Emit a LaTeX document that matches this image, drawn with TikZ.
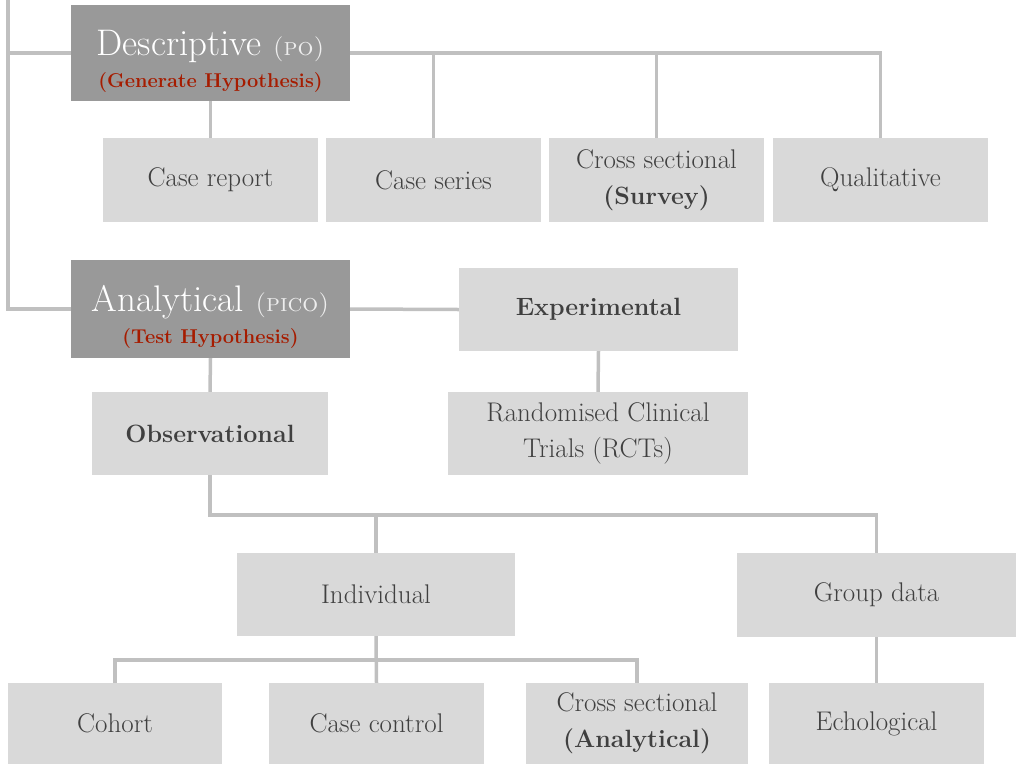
\documentclass[tikz,border=0pt]{standalone}
\usepackage{fontspec}
\usepackage{xcolor}
\definecolor{hdr}{HTML}{999999}
\definecolor{lite}{HTML}{D9D9D9}
\definecolor{txt}{HTML}{404040}
\definecolor{redt}{HTML}{A61C00}
\definecolor{conn}{HTML}{C0C0C0}
\definecolor{pale}{HTML}{EEEEEE}
\newcommand{\bigtxt}{\fontsize{37}{32}\selectfont}
\newcommand{\sctxt}{\fontsize{25}{32}\selectfont}
\newcommand{\redtxt}{\fontsize{20}{32}\selectfont\bfseries\color{redt}}
\newcommand{\bftxt}[1]{{\fontsize{25}{36}\selectfont\bfseries #1}}
\newcommand{\topstrut}{\rule{0pt}{42pt}}
\tikzset{
  box/.style={fill=lite, text=txt, inner sep=0pt, align=center, font=\fontsize{27}{36}\selectfont},
  hbox/.style={fill=hdr, text=white, inner sep=0pt, align=center, font=\fontsize{20}{32}\selectfont},
  conn/.style={draw=conn, line width=3.5pt}
}
\begin{document}
\begin{tikzpicture}[x=1pt,y=-1pt]
\useasboundingbox (0,0) rectangle (1018,764);
% header nodes
\node[hbox, minimum width=279pt, minimum height=96pt] (desc) at (210.5,53)
  {\topstrut{\bigtxt Descriptive {\sctxt\color{pale}\textsc{(po)}}}\\
   {\redtxt (Generate Hypothesis)}};
\node[hbox, minimum width=279pt, minimum height=98pt] (anal) at (210.5,309)
  {\topstrut{\bigtxt Analytical {\sctxt\color{pale}\textsc{(pico)}}}\\
   {\redtxt (Test Hypothesis)}};
% row 1
\node[box, minimum width=215pt, minimum height=84pt] (crep) at (210.5,180) {Case report};
\node[box, minimum width=215pt, minimum height=84pt] (cser) at (433.5,180) {Case series};
\node[box, minimum width=215pt, minimum height=84pt] (csec) at (656.5,180) {Cross sectional\\\bftxt{(Survey)}};
\node[box, minimum width=215pt, minimum height=84pt] (qual) at (880.5,180) {Qualitative};
% analytical branch
\node[box, minimum width=279pt, minimum height=83pt] (expe) at (598.5,309.5) {\bftxt{Experimental}};
\node[box, minimum width=300pt, minimum height=83pt] (rct) at (598,433.5) {Randomised Clinical\\Trials (RCTs)};
\node[box, minimum width=236pt, minimum height=83pt] (obs) at (210,433.5) {\bftxt{Observational}};
\node[box, minimum width=278pt, minimum height=83pt] (ind) at (376,594.5) {Individual};
\node[box, minimum width=279pt, minimum height=84pt] (grp) at (876.5,595) {Group data};
% bottom row
\node[box, minimum width=214pt, minimum height=81pt] (coh) at (115,723.5) {Cohort};
\node[box, minimum width=215pt, minimum height=81pt] (cctl) at (376.5,723.5) {Case control};
\node[box, minimum width=222pt, minimum height=81pt] (csan) at (637,723.5) {Cross sectional\\\bftxt{(Analytical)}};
\node[box, minimum width=215pt, minimum height=81pt] (echo) at (876.5,723.5) {Echological};
% connectors
\coordinate (top) at (8,0);
\coordinate (busB) at (0,515);
\coordinate (busC) at (0,660);
\draw[conn] (top) |- (anal.west);
\draw[conn] (desc.west) -- (desc.west -| top);
\draw[conn] (desc.east) -- (qual.north |- desc.east) -- (qual.north);
\draw[conn] (cser.north |- desc.east) -- (cser.north);
\draw[conn] (csec.north |- desc.east) -- (csec.north);
\draw[conn] (desc.south) -- (crep.north);
\draw[conn] (anal.east) -- (expe.west);
\draw[conn] (expe.south) -- (rct.north);
\draw[conn] (anal.south) -- (obs.north);
\draw[conn] (obs.south) |- (grp.north |- busB) -- (grp.north);
\draw[conn] (ind.north |- busB) -- (ind.north);
\draw[conn] (ind.south) -- (cctl.north);
\draw[conn] (coh.north) |- (csan.north |- busC) -- (csan.north);
\draw[conn] (grp.south) -- (echo.north);
\end{tikzpicture}
\end{document}
